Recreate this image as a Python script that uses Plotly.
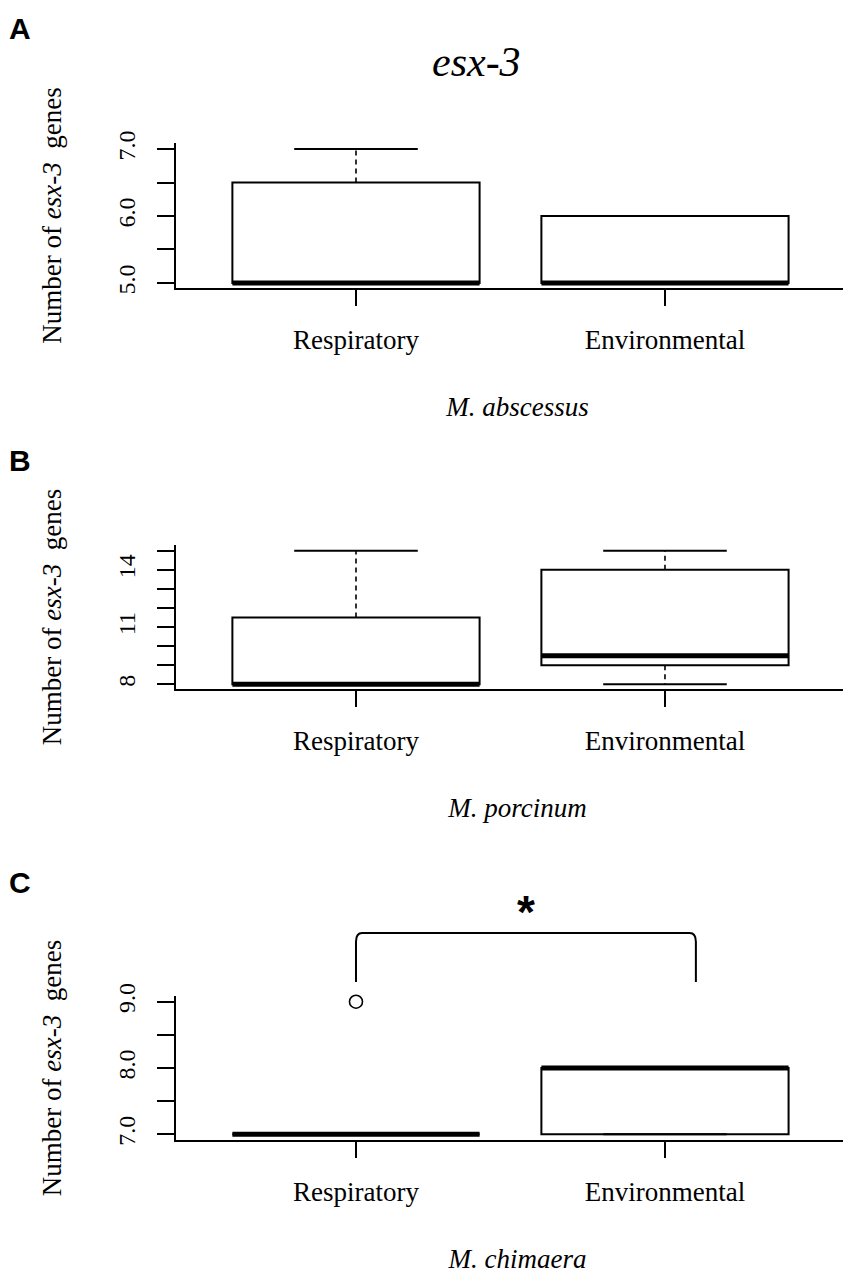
import plotly.graph_objects as go

# -----------------------------
# data
# -----------------------------
groups = ["Respiratory", "Environmental"]
positions = [1, 2]
species = ["M. abscessus", "M. porcinum", "M. chimaera"]
panel_letters = ["A", "B", "C"]

# A: M. abscessus
a_lower = [5, 5]
a_q1 = [5, 5]
a_median = [5, 5]
a_q3 = [6.5, 6]
a_upper = [7, 6]
a_out_x = []
a_out_y = []
a_tickvals = [5, 5.5, 6, 6.5, 7]
a_ticktext = ["5.0", "", "6.0", "", "7.0"]

# B: M. porcinum
b_lower = [8, 8]
b_q1 = [8, 9]
b_median = [8, 9.5]
b_q3 = [11.5, 14]
b_upper = [15, 15]
b_out_x = []
b_out_y = []
b_tickvals = [8, 9, 10, 11, 12, 13, 14, 15]
b_ticktext = ["8", "", "", "11", "", "", "14", ""]

# C: M. chimaera
c_lower = [7, 7]
c_q1 = [7, 7]
c_median = [7, 8]
c_q3 = [7, 8]
c_upper = [7, 8]
c_out_x = [1]
c_out_y = [9]
c_tickvals = [7, 7.5, 8, 8.5, 9]
c_ticktext = ["7.0", "", "8.0", "", "9.0"]

# significance bracket between the two groups in panel C
bracket_groups = [1, 2.1]
bracket_label = "*"

title_text = "esx-3"
ytitle_text = "Number of <i>esx-3</i>  genes"

# -----------------------------
# layout of the three panels (pixels -> paper)
# -----------------------------
W, H = 851, 1275
PAD = 8          # the page body adds ~8px around the figure
BOX_W = 0.8      # R default box width
CAP_W = 0.4      # staple = half box width


def px_x(v):
    return (v - PAD) / W


def px_y(v):
    return (H - (v - PAD)) / H


x_domain = [px_x(176), 1.0]
x_range = [0.4175, 2.602 + PAD / 309]

panels = [
    dict(stats=(a_lower, a_q1, a_median, a_q3, a_upper), out=(a_out_x, a_out_y),
         ticks=(a_tickvals, a_ticktext), yrange=[4.925, 7.09], px=(143, 288)),
    dict(stats=(b_lower, b_q1, b_median, b_q3, b_upper), out=(b_out_x, b_out_y),
         ticks=(b_tickvals, b_ticktext), yrange=[7.754, 15.30], px=(545, 689)),
    dict(stats=(c_lower, c_q1, c_median, c_q3, c_upper), out=(c_out_x, c_out_y),
         ticks=(c_tickvals, c_ticktext), yrange=[6.914, 9.086], px=(996, 1140)),
]

SERIF = "Liberation Serif"
fig = go.Figure()

for i, p in enumerate(panels):
    n = "" if i == 0 else str(i + 1)
    xr, yr = "x" + n, "y" + n
    lower, q1, med, q3, upper = p["stats"]

    # box body (fences set to quartiles -> whiskers are drawn separately, dashed)
    fig.add_trace(go.Box(
        x=positions, q1=q1, median=med, q3=q3, lowerfence=q1, upperfence=q3,
        width=BOX_W, whiskerwidth=0, fillcolor="white", boxpoints=False,
        line=dict(color="black", width=2), xaxis=xr, yaxis=yr, showlegend=False,
    ))

    # dashed whiskers
    wx, wy = [], []
    for pos, lo, a, b, hi in zip(positions, lower, q1, q3, upper):
        if hi > b:
            wx += [pos, pos, None]
            wy += [b, hi, None]
        if lo < a:
            wx += [pos, pos, None]
            wy += [a, lo, None]
    fig.add_trace(go.Scatter(x=wx, y=wy, mode="lines", xaxis=xr, yaxis=yr,
                             line=dict(color="black", width=1.6, dash="5px,4px"),
                             showlegend=False, hoverinfo="skip"))

    # staples
    sx, sy = [], []
    for pos, lo, hi in zip(positions, lower, upper):
        for v in (lo, hi):
            sx += [pos - CAP_W / 2, pos + CAP_W / 2, None]
            sy += [v, v, None]
    fig.add_trace(go.Scatter(x=sx, y=sy, mode="lines", xaxis=xr, yaxis=yr,
                             line=dict(color="black", width=2),
                             showlegend=False, hoverinfo="skip"))

    # thick median
    mx, my = [], []
    for pos, m in zip(positions, med):
        mx += [pos - BOX_W / 2, pos + BOX_W / 2, None]
        my += [m, m, None]
    fig.add_trace(go.Scatter(x=mx, y=my, mode="lines", xaxis=xr, yaxis=yr,
                             line=dict(color="black", width=5),
                             showlegend=False, hoverinfo="skip"))

    # outliers
    ox, oy = p["out"]
    if ox:
        fig.add_trace(go.Scatter(x=ox, y=oy, mode="markers", xaxis=xr, yaxis=yr,
                                 marker=dict(symbol="circle-open", size=13, color="black",
                                             line=dict(width=1.6)),
                                 cliponaxis=False, showlegend=False))

    top, bottom = p["px"]
    y_domain = [px_y(bottom), px_y(top)]
    tv, tt = p["ticks"]

    fig.update_layout(**{
        "xaxis" + n: dict(
            domain=x_domain, range=x_range, anchor=yr, automargin=False,
            showline=True, linecolor="black", linewidth=2,
            ticks="outside", ticklen=16, tickwidth=2, tickcolor="black",
            tickvals=positions, ticktext=groups, ticklabelstandoff=11,
            tickfont=dict(family=SERIF, size=27, color="black"),
            showgrid=False, zeroline=False,
            title=dict(text="<i>" + species[i] + "</i>", standoff=43,
                       font=dict(family=SERIF, size=27, color="black")),
        ),
        "yaxis" + n: dict(
            domain=y_domain, range=p["yrange"], anchor=xr, automargin=False,
            showline=True, linecolor="black", linewidth=2,
            ticks="outside", ticklen=17, tickwidth=2, tickcolor="black",
            tickvals=tv, ticktext=tt, tickangle=-90, ticklabelstandoff=12,
            tickfont=dict(family=SERIF, size=24, color="black"),
            showgrid=False, zeroline=False,
            title=dict(text=ytitle_text, standoff=45,
                       font=dict(family=SERIF, size=27, color="black")),
        ),
    })

    # panel letter
    letter_y = [28, 460, 882][i]
    fig.add_annotation(text="<b>" + panel_letters[i] + "</b>", xref="paper", yref="paper",
                       x=px_x(20), y=px_y(letter_y), xanchor="center", yanchor="middle",
                       showarrow=False,
                       font=dict(family="Liberation Sans", size=30, color="black"))

# bracket + star over panel C
x0, x1 = bracket_groups
y_leg, y_top, r = 1.097, 1.4375, 0.06
fig.add_shape(type="path", xref="x3", yref="y3 domain",
              path=(f"M {x0},{y_leg} L {x0},{y_top - r} Q {x0},{y_top} {x0 + 0.02},{y_top} "
                    f"L {x1 - 0.02},{y_top} Q {x1},{y_top} {x1},{y_top - r} L {x1},{y_leg}"),
              line=dict(color="black", width=2))
fig.add_annotation(text="<b>" + bracket_label + "</b>", xref="x3", yref="y3 domain",
                   x=(x0 + x1) / 2, y=1.585, xanchor="center", yanchor="middle",
                   showarrow=False,
                   font=dict(family="Liberation Sans", size=46, color="black"))

# main title
fig.add_annotation(text="<i>" + title_text + "</i>", xref="paper", yref="paper",
                   x=px_x(476), y=px_y(62), xanchor="center", yanchor="middle",
                   showarrow=False,
                   font=dict(family=SERIF, size=42, color="black"))

fig.update_layout(
    width=W, height=H,
    margin=dict(l=0, r=0, t=0, b=0),
    paper_bgcolor="white", plot_bgcolor="white",
    showlegend=False,
)

fig.write_html("out.html")
